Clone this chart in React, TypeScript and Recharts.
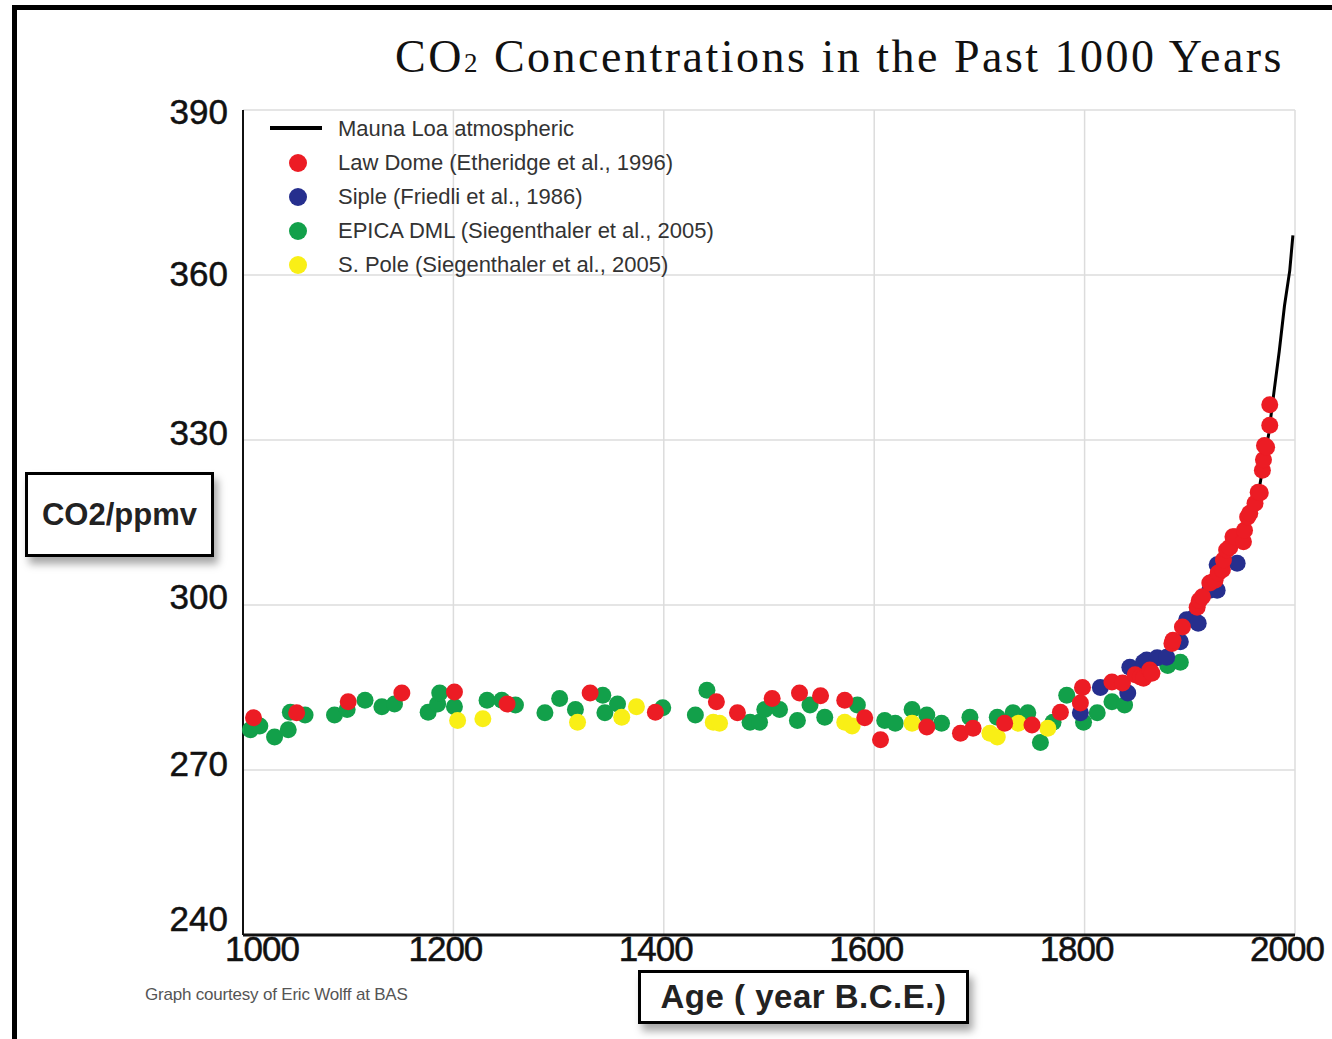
import React from "react";
import {
  ScatterChart,
  Scatter,
  XAxis,
  YAxis,
  CartesianGrid,
} from "recharts";

type Pt = { year: number; ppm: number };

const xTicks = [1000, 1200, 1400, 1600, 1800, 2000];
const yTicks = [240, 270, 300, 330, 360, 390];

// Mauna Loa atmospheric record (annual means)
const maunaLoa: Pt[] = [
  { year: 1958, ppm: 315.3 },
  { year: 1960, ppm: 316.9 },
  { year: 1965, ppm: 320.0 },
  { year: 1970, ppm: 325.7 },
  { year: 1975, ppm: 331.1 },
  { year: 1980, ppm: 338.7 },
  { year: 1985, ppm: 346.1 },
  { year: 1990, ppm: 354.4 },
  { year: 1995, ppm: 360.8 },
  { year: 1998, ppm: 367.2 },
];

const lawDome: Pt[] = [
  { year: 1010, ppm: 279.5 }, { year: 1051, ppm: 280.4 }, { year: 1100, ppm: 282.4 },
  { year: 1151, ppm: 284 }, { year: 1201, ppm: 284.2 }, { year: 1251, ppm: 282 },
  { year: 1330, ppm: 284 }, { year: 1392, ppm: 280.5 }, { year: 1450, ppm: 282.4 },
  { year: 1470, ppm: 280.4 }, { year: 1503, ppm: 283 }, { year: 1529, ppm: 284 },
  { year: 1549, ppm: 283.5 }, { year: 1572, ppm: 282.7 }, { year: 1591, ppm: 279.5 },
  { year: 1606, ppm: 275.5 }, { year: 1650, ppm: 277.8 }, { year: 1682, ppm: 276.7 },
  { year: 1694, ppm: 277.6 }, { year: 1724, ppm: 278.5 }, { year: 1750, ppm: 278.2 },
  { year: 1777, ppm: 280.5 }, { year: 1796, ppm: 282.2 }, { year: 1798, ppm: 285 },
  { year: 1826, ppm: 286 }, { year: 1836, ppm: 285.8 }, { year: 1848, ppm: 287.3 },
  { year: 1853, ppm: 286.9 }, { year: 1856, ppm: 286.7 }, { year: 1862, ppm: 288.2 },
  { year: 1864, ppm: 287.6 }, { year: 1883, ppm: 293 }, { year: 1884, ppm: 293.6 },
  { year: 1893, ppm: 296 }, { year: 1907, ppm: 299.6 }, { year: 1909, ppm: 300.8 },
  { year: 1912, ppm: 301.5 }, { year: 1919, ppm: 304 }, { year: 1924, ppm: 304.5 },
  { year: 1927, ppm: 305.8 }, { year: 1931, ppm: 306.4 }, { year: 1932, ppm: 308.2 },
  { year: 1935, ppm: 310 }, { year: 1938, ppm: 310.5 }, { year: 1941, ppm: 312.4 },
  { year: 1943, ppm: 312.4 }, { year: 1951, ppm: 311.5 }, { year: 1952, ppm: 313.6 },
  { year: 1955, ppm: 316 }, { year: 1957, ppm: 316.7 }, { year: 1962, ppm: 318.5 },
  { year: 1965, ppm: 320.5 }, { year: 1967, ppm: 320.4 }, { year: 1969, ppm: 324.5 },
  { year: 1970, ppm: 326.4 }, { year: 1971, ppm: 329 }, { year: 1973, ppm: 328.7 },
  { year: 1976, ppm: 332.7 }, { year: 1976, ppm: 336.4 },
];

const siple: Pt[] = [
  { year: 1796, ppm: 280.4 }, { year: 1815, ppm: 285 }, { year: 1841, ppm: 284 },
  { year: 1843, ppm: 288.7 }, { year: 1856, ppm: 289.6 }, { year: 1859, ppm: 290 },
  { year: 1869, ppm: 290.4 }, { year: 1878, ppm: 290.5 }, { year: 1891, ppm: 293.3 },
  { year: 1897, ppm: 297.3 }, { year: 1903, ppm: 297.6 }, { year: 1908, ppm: 296.7 },
  { year: 1919, ppm: 302.7 }, { year: 1926, ppm: 302.7 }, { year: 1926, ppm: 307.3 },
  { year: 1945, ppm: 307.6 },
];

const epica: Pt[] = [
  { year: 1007, ppm: 277.3 }, { year: 1016, ppm: 278 }, { year: 1030, ppm: 276 },
  { year: 1043, ppm: 277.3 }, { year: 1045, ppm: 280.5 }, { year: 1059, ppm: 280 },
  { year: 1087, ppm: 280 }, { year: 1099, ppm: 281 }, { year: 1116, ppm: 282.7 },
  { year: 1132, ppm: 281.5 }, { year: 1144, ppm: 282 }, { year: 1176, ppm: 280.5 },
  { year: 1185, ppm: 282 }, { year: 1187, ppm: 284 }, { year: 1201, ppm: 281.5 },
  { year: 1232, ppm: 282.7 }, { year: 1246, ppm: 282.7 }, { year: 1259, ppm: 281.8 },
  { year: 1287, ppm: 280.4 }, { year: 1301, ppm: 283 }, { year: 1316, ppm: 281 },
  { year: 1342, ppm: 283.6 }, { year: 1344, ppm: 280.4 }, { year: 1356, ppm: 282 },
  { year: 1399, ppm: 281.3 }, { year: 1430, ppm: 280 }, { year: 1441, ppm: 284.5 },
  { year: 1482, ppm: 278.7 }, { year: 1491, ppm: 278.7 }, { year: 1496, ppm: 281 },
  { year: 1510, ppm: 281 }, { year: 1527, ppm: 279 }, { year: 1539, ppm: 281.8 },
  { year: 1553, ppm: 279.6 }, { year: 1584, ppm: 281.8 }, { year: 1610, ppm: 279 },
  { year: 1620, ppm: 278.5 }, { year: 1636, ppm: 281 }, { year: 1650, ppm: 280 },
  { year: 1664, ppm: 278.5 }, { year: 1691, ppm: 279.6 }, { year: 1717, ppm: 279.6 },
  { year: 1732, ppm: 280.4 }, { year: 1746, ppm: 280.4 }, { year: 1758, ppm: 275 },
  { year: 1770, ppm: 278.7 }, { year: 1783, ppm: 283.6 }, { year: 1799, ppm: 278.7 },
  { year: 1812, ppm: 280.4 }, { year: 1826, ppm: 282.4 }, { year: 1838, ppm: 281.8 },
  { year: 1879, ppm: 289 }, { year: 1891, ppm: 289.6 },
];

const southPole: Pt[] = [
  { year: 1204, ppm: 279 }, { year: 1228, ppm: 279.3 }, { year: 1318, ppm: 278.7 },
  { year: 1360, ppm: 279.6 }, { year: 1374, ppm: 281.5 }, { year: 1447, ppm: 278.7 },
  { year: 1453, ppm: 278.5 }, { year: 1572, ppm: 278.7 }, { year: 1579, ppm: 278 },
  { year: 1636, ppm: 278.5 }, { year: 1710, ppm: 276.7 }, { year: 1717, ppm: 276 },
  { year: 1737, ppm: 278.5 }, { year: 1765, ppm: 277.6 },
];

const RED = "#ec1c24";
const BLUE = "#262f8e";
const GREEN = "#12a04a";
const YELLOW = "#f9ef16";

const legendItems = [
  { name: "Mauna Loa atmospheric", color: "#000", line: true },
  { name: "Law Dome (Etheridge et al., 1996)", color: RED, line: false },
  { name: "Siple (Friedli et al., 1986)", color: BLUE, line: false },
  { name: "EPICA DML (Siegenthaler et al., 2005)", color: GREEN, line: false },
  { name: "S. Pole (Siegenthaler et al., 2005)", color: YELLOW, line: false },
];

const dot = (color: string) => (props: any) =>
  <circle cx={props.cx} cy={props.cy} r={8.5} fill={color} />;

// label nudges as in the original image (top label sits low, bottom one high)
const yLabelDy: Record<number, number> = { 390: 14, 360: 11, 330: 5, 300: 4, 270: 6, 240: -4 };

const YTick = ({ x, y, payload }: any) => (
  <text x={x} y={y} dy={yLabelDy[payload.value] ?? 7} textAnchor="end" fill="#111" stroke="#111" strokeWidth={0.5}
    fontFamily="Liberation Sans, Arial, sans-serif" fontSize={35}>
    {payload.value}
  </text>
);

const XTick = ({ x, y, payload }: any) => (
  <text x={x} y={y} dx={payload.value === 1000 ? 19 : -8} dy={26} textAnchor="middle"
    fill="#111" stroke="#111" strokeWidth={0.5} fontFamily="Liberation Sans, Arial, sans-serif"
    fontSize={35} letterSpacing={-1}>
    {payload.value}
  </text>
);

const boxStyle: React.CSSProperties = {
  position: "absolute",
  border: "3px solid #000",
  boxShadow: "4px 7px 8px rgba(0,0,0,0.35)",
  background: "#fff",
  display: "flex",
  alignItems: "center",
  justifyContent: "center",
  fontFamily: "Liberation Sans, Arial, sans-serif",
  fontWeight: "bold",
  color: "#222",
  boxSizing: "border-box",
  whiteSpace: "nowrap",
};

export default function App() {
  return (
    <div style={{ position: "absolute", left: 0, top: 0, width: 1332, height: 1039, overflow: "hidden", background: "#fff" }}>
      {/* frame */}
      <div style={{ position: "absolute", left: 12, top: 5, width: 1400, height: 1100, borderTop: "5px solid #000", borderLeft: "5px solid #000" }} />

      <div style={{ position: "absolute", left: 395, top: 30, fontFamily: "Liberation Serif, Times New Roman, serif", fontSize: 46, letterSpacing: 2.5, color: "#111", whiteSpace: "nowrap" }}>
        CO<span style={{ fontSize: 27 }}>2</span> Concentrations in the Past 1000 Years
      </div>

      <div style={{ position: "absolute", left: 0, top: 0 }}>
        <ScatterChart width={1332} height={1039} margin={{ top: 110, right: 37, bottom: 0, left: 0 }}>
          <CartesianGrid stroke="#dcdcdc" strokeWidth={1.5} />
          <XAxis type="number" dataKey="year" domain={[1000, 2000]} ticks={xTicks}
            height={104} tickSize={0} tickMargin={0} tick={<XTick />}
            axisLine={{ stroke: "#111", strokeWidth: 3 }} />
          <YAxis type="number" dataKey="ppm" domain={[240, 390]} ticks={yTicks}
            width={243} tickSize={0} tickMargin={15} tick={<YTick />}
            axisLine={{ stroke: "#111", strokeWidth: 2 }} />
          <Scatter name="Mauna Loa atmospheric" data={maunaLoa} line={{ stroke: "#000", strokeWidth: 3 }}
            lineType="joint" shape={() => <g />} isAnimationActive={false} />
          <Scatter name="EPICA DML" data={epica} shape={dot(GREEN)} isAnimationActive={false} />
          <Scatter name="S. Pole" data={southPole} shape={dot(YELLOW)} isAnimationActive={false} />
          <Scatter name="Siple" data={siple} shape={dot(BLUE)} isAnimationActive={false} />
          <Scatter name="Law Dome" data={lawDome} shape={dot(RED)} isAnimationActive={false} />
        </ScatterChart>
      </div>

      {/* Legend */}
      <div style={{ position: "absolute", left: 262, top: 112, fontFamily: "Liberation Sans, Arial, sans-serif", fontSize: 22, color: "#333" }}>
        {legendItems.map((it) => (
          <div key={it.name} style={{ display: "flex", alignItems: "center", height: 34 }}>
            <div style={{ width: 76, position: "relative", height: 34 }}>
              {it.line ? (
                <div style={{ position: "absolute", left: 8, top: 14, width: 52, height: 4, background: it.color }} />
              ) : (
                <div style={{ position: "absolute", left: 27, top: 8, width: 18, height: 18, borderRadius: 9, background: it.color }} />
              )}
            </div>
            <span style={{ whiteSpace: "nowrap" }}>{it.name}</span>
          </div>
        ))}
      </div>

      <div style={{ ...boxStyle, left: 25, top: 472, width: 189, height: 85, fontSize: 31 }}>
        CO2/ppmv
      </div>
      <div style={{ ...boxStyle, left: 638, top: 970, width: 331, height: 54, fontSize: 33, letterSpacing: 0.5 }}>
        Age ( year B.C.E.)
      </div>
      <div style={{ position: "absolute", left: 145, top: 985, fontFamily: "Liberation Sans, Arial, sans-serif", fontSize: 17, color: "#555", letterSpacing: -0.2 }}>
        Graph courtesy of Eric Wolff at BAS
      </div>
    </div>
  );
}
